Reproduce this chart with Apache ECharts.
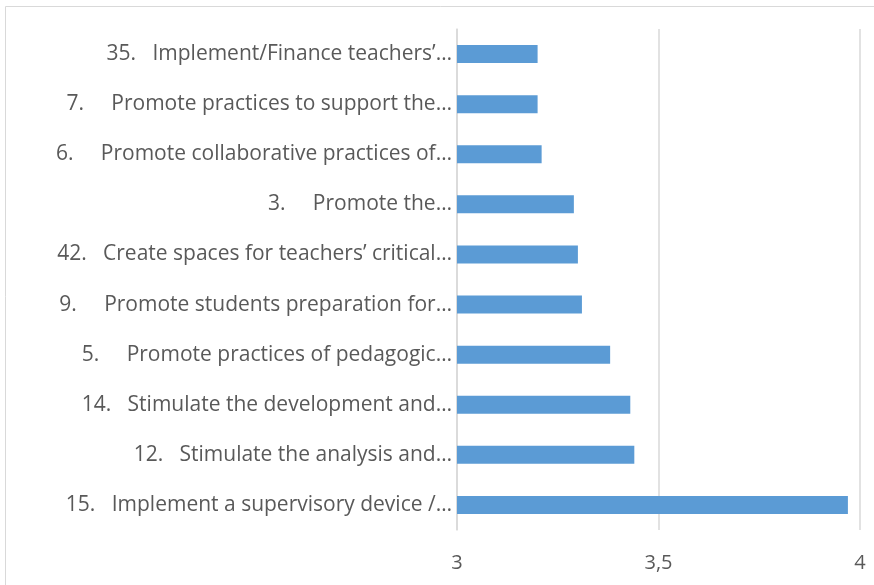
<!DOCTYPE html>
<html>
<head>
<meta charset="utf-8">
<script src="https://cdn.jsdelivr.net/npm/echarts@6/dist/echarts.min.js"></script>
<style>
  html, body { margin: 0; padding: 0; background: #fff; }
  #main { width: 874px; height: 585px; }
</style>
</head>
<body>
<div id="main"></div>
<script>
// categories, top to bottom
var categories = [
    '35.   Implement/Finance teachers\u2019\u2026',
    '7.     Promote practices to support the\u2026',
    '6.     Promote collaborative practices of\u2026',
    '3.     Promote the\u2026',
    '42.   Create spaces for teachers\u2019 critical\u2026',
    '9.     Promote students preparation for\u2026',
    '5.     Promote practices of pedagogic\u2026',
    '14.   Stimulate the development and\u2026',
    '12.   Stimulate the analysis and\u2026',
    '15.   Implement a supervisory device /\u2026'
];
var values = [3.20, 3.20, 3.21, 3.29, 3.30, 3.31, 3.38, 3.43, 3.44, 3.97];
var xMin = 3, xMax = 4, xStep = 0.5;

var chart = echarts.init(document.getElementById('main'));

var option = {
    animation: false,
    textStyle: { fontFamily: 'Open Sans' },
    graphic: [{
        type: 'rect',
        shape: { x: 5.5, y: 6.5, width: 900, height: 600 },
        style: { fill: 'none', stroke: '#d9d9d9', lineWidth: 1 }
    }],
    grid: { left: 457, right: 14, top: 29, bottom: 55 },
    xAxis: {
        type: 'value',
        min: xMin,
        max: xMax,
        interval: xStep,
        axisLine: { show: false },
        axisTick: { show: false },
        splitLine: { lineStyle: { color: '#d9d9d9', width: 1.5 } },
        axisLabel: {
            color: '#595959',
            fontSize: 20,
            margin: 23,
            formatter: function (v) { return String(v).replace('.', ','); }
        }
    },
    yAxis: {
        type: 'category',
        inverse: true,
        data: categories,
        axisLine: { lineStyle: { color: '#d9d9d9', width: 1.5 } },
        axisTick: { show: false },
        axisLabel: { color: '#595959', fontSize: 21, margin: 5 }
    },
    series: [{
        type: 'bar',
        data: values,
        barWidth: 18,
        itemStyle: { color: '#5b9bd5' }
    }]
};

chart.setOption(option);
</script>
</body>
</html>
